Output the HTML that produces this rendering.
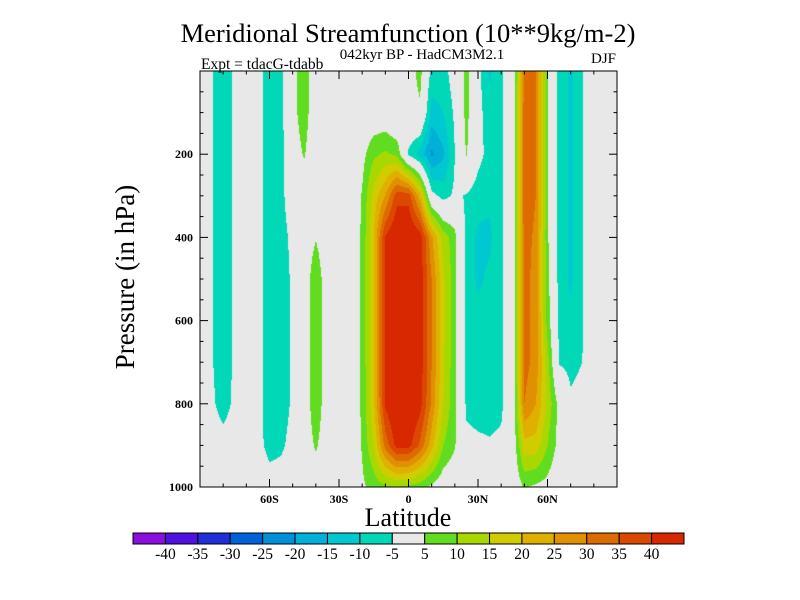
<!DOCTYPE html>
<html><head><meta charset="utf-8"><style>
body{margin:0;background:#fff;}
#wrap{position:relative;width:800px;height:600px;overflow:hidden;font-family:"Liberation Serif",serif;}
canvas{position:absolute;left:200px;top:71px;}
svg{position:absolute;left:0;top:0;}
</style></head><body>
<div id="wrap">
<canvas id="cv" width="417" height="416"></canvas>
<svg id="sv" width="800" height="600">
<text x="408" y="42" font-size="26.5" text-anchor="middle">Meridional Streamfunction (10**9kg/m-2)</text>
<text x="422" y="59" font-size="15" text-anchor="middle">042kyr BP - HadCM3M2.1</text>
<text x="201" y="69" font-size="15.5">Expt = tdacG-tdabb</text>
<text x="616" y="63" font-size="15" text-anchor="end">DJF</text>
<text x="0" y="0" font-size="27" text-anchor="middle" transform="translate(134,277) rotate(-90)">Pressure (in hPa)</text>
<text x="408" y="526" font-size="26" text-anchor="middle">Latitude</text>
</svg>
</div>
<script>
const lats=[-90,-85,-80,-75,-70,-65,-60,-55,-50,-45,-40,-35,-30,-25,-20,-15,-10,-5,0,5,10,15,20,25,30,35,40,45,50,55,60,65,70,75,80,85,90];
const pressures=[0,100,200,300,400,500,600,700,800,900,1000];
const levels=[-40,-35,-30,-25,-20,-15,-10,-5,5,10,15,20,25,30,35,40];
const levelColors=["#8a10e0","#5010e0","#2030d8","#0060d8","#0090d8","#00b0d8","#00c8d0","#00d8b8","#e8e8e8","#60dd20","#a8d800","#d0cc00","#e0b000","#e09000","#dd6c00","#dd4800","#d82800"];
const yTicks=[200,400,600,800,1000];
const xTicks=[-60,-30,0,30,60];
const xTickLabels=["60S","30S","0","30N","60N"];
const field=[
[0,0,0,0,0,0,0,0,0,0,0],
[-4.5,-4.5,-4.5,-4.5,-4.5,-4.5,-4.5,-4.5,-4,-2,0],
[-8,-8,-8,-8,-8,-8,-8,-8,-7,-3,0],
[-4,-4,-4,-4,-4,-4,-4,-4,-4,-2,0],
[0,0,0,0,0,0,0,0,0,0,0],
[-3,-3,-3,-3,-3,-3,-3,-3,-3,-3,0],
[-8,-8,-8,-8,-8,-8,-8,-8,-8,-7,-2],
[-7,-7,-7,-7,-8,-8,-8,-8,-8,-6,-2],
[3,3,2,0,-3,-4,-4,-4,-4,-3,0],
[8,8,5.5,1,0,0,0,0,0,0,0],
[0,0,0,0,4.5,10,10,10,10,6,0],
[0,0,0,0,0,0,0,0,0,0,0],
[0,0,0,0,0,0,0,0,0,0,0],
[0,0,0,0,0,0,0,0,0,0,0],
[0,0,3,5.5,6,6,6,6,6,5.5,4],
[0,0,9,17,20,20,20,20,19,15,7],
[0,0,11,25,40.5,41,41,41,41,32,9],
[0,-3,9,38,46,48,48,48,47,42,10],
[2,2,-6,38,46,48,48,48,47,42,9],
[7,4,-12,22,43,43,43,43,42,34,7],
[-7,-12,-21,-3,26,30,30,30,29,22,4],
[-7,-10,-16,-7,13,16,16,16,15,10,1],
[-2,-4,-5,-4,7,7,7,6.5,6.5,5.5,0],
[7,7,5.5,-5.5,-7,-7,-7,-7,-6,-3.5,0],
[-3,-3,-3,-8,-11,-11,-8,-8,-7,-4,0],
[-11,-8,-7,-9,-11,-9,-8,-7,-7,-4.5,0],
[-6,-6,-6,-6,-6,-6,-6,-6,-6,-4,0],
[0,0,0,0,0,0,0,0,0,0,0],
[30,33,33,33,32,32,32,32,30,18,5.5],
[30,30,30,30,29,28,28,28,25,18,4],
[6,6,6,6,6,7,8,12,14,10,3],
[-7,-7,-7,-7,-7,-7,-6,-5.5,3,3,0],
[-11,-11,-11,-11,-11,-11,-9,-6.5,-4,-2,0],
[-5.5,-5.5,-5.5,-5.5,-5.5,-5.5,-5.5,-5,-3,0,0],
[0,0,0,0,0,0,0,0,0,0,0],
[0,0,0,0,0,0,0,0,0,0,0],
[0,0,0,0,0,0,0,0,0,0,0]
];
const X0=200,X1=617,Y0=71,Y1=487;
function xs(lat){return X0+(lat-lats[0])/(lats[lats.length-1]-lats[0])*(X1-X0);}
function ys(p){return Y0+(p-pressures[0])/(pressures[pressures.length-1]-pressures[0])*(Y1-Y0);}
function interp(arr,v){for(let i=0;i<arr.length-1;i++){if(v<=arr[i+1])return i+(v-arr[i])/(arr[i+1]-arr[i]);}return arr.length-1;}
function colorIdx(v){let k=0;while(k<levels.length&&v>=levels[k])k++;return k;}
function hex(c){return [parseInt(c.substr(1,2),16),parseInt(c.substr(3,2),16),parseInt(c.substr(5,2),16)];}
const rgb=levelColors.map(hex);
const cv=document.getElementById('cv');const ctx=cv.getContext('2d');
const W=cv.width,H=cv.height;const img=ctx.createImageData(W,H);
for(let py=0;py<H;py++){
 const p=pressures[0]+(py+0.5)/H*(pressures[pressures.length-1]-pressures[0]);
 let fj=interp(pressures,p);let j=Math.min(Math.floor(fj),pressures.length-2);let ty=fj-j;
 for(let px=0;px<W;px++){
  const lat=lats[0]+(px+0.5)/W*(lats[lats.length-1]-lats[0]);
  let fi=interp(lats,lat);let i=Math.min(Math.floor(fi),lats.length-2);let tx=fi-i;
  const v=(field[i][j]*(1-tx)+field[i+1][j]*tx)*(1-ty)+(field[i][j+1]*(1-tx)+field[i+1][j+1]*tx)*ty;
  const c=rgb[colorIdx(v)];const o=(py*W+px)*4;
  img.data[o]=c[0];img.data[o+1]=c[1];img.data[o+2]=c[2];img.data[o+3]=255;
 }
}
ctx.putImageData(img,0,0);
const NS='http://www.w3.org/2000/svg';const sv=document.getElementById('sv');
function mk(tag,attrs){const e=document.createElementNS(NS,tag);for(const k in attrs)e.setAttribute(k,attrs[k]);sv.appendChild(e);return e;}
let fr=mk('rect',{x:X0,y:Y0,width:X1-X0,height:Y1-Y0,fill:'none',stroke:'#000','stroke-width':1});


for(let p=50;p<=1000;p+=50){
 const major=p%200===0;const L=major?8:3.5;const y=ys(p);
 let t1=mk('line',{x1:X0,y1:y,x2:X0+L,y2:y,stroke:'#000'});
 
 
 let t2=mk('line',{x1:X1,y1:y,x2:X1-L,y2:y,stroke:'#000'});
 
 
}
yTicks.forEach(p=>{
 const t=mk('text',{x:193,y:ys(p)+4,'font-size':12,'font-weight':'bold','text-anchor':'end'});t.textContent=p;
 
 
});
for(let lat=-80;lat<=80;lat+=10){
 const major=lat%30===0;const L=major?8:3.5;const x=xs(lat);
 let t1=mk('line',{x1:x,y1:Y1,x2:x,y2:Y1-L,stroke:'#000'});
 
 
 let t2=mk('line',{x1:x,y1:Y0,x2:x,y2:Y0+L,stroke:'#000'});
 
 
}
xTicks.forEach((lat,k)=>{
 const t=mk('text',{x:xs(lat),y:503,'font-size':12,'font-weight':'bold','text-anchor':'middle'});t.textContent=xTickLabels[k];
 
 
});
const CB0=133,CB1=684,CBY=533,CBH=11;const bw=(CB1-CB0)/levelColors.length;
levelColors.forEach((c,k)=>{
 const r=mk('rect',{x:CB0+k*bw,y:CBY,width:bw,height:CBH,fill:c,stroke:'#000','stroke-width':1});
 
 
});
levels.forEach((lv,k)=>{
 const t=mk('text',{x:CB0+(k+1)*bw,y:559,'font-size':15.5,'text-anchor':'middle'});t.textContent=lv;
 
 
});
</script>
</body></html>
